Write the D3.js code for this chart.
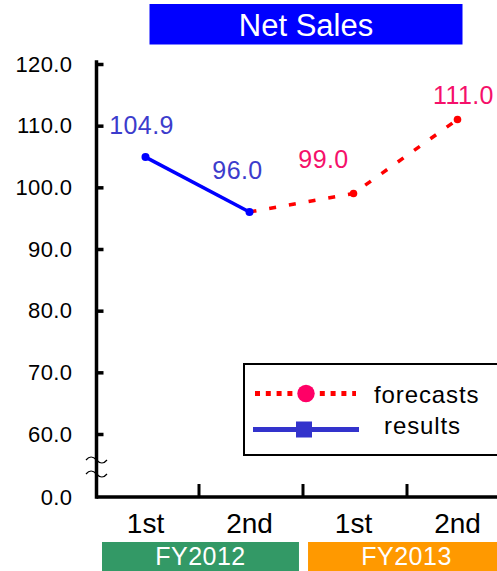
<!DOCTYPE html>
<html><head><meta charset="utf-8">
<script src="https://cdn.jsdelivr.net/npm/d3@7"></script>
<style>
html,body{margin:0;padding:0;background:#fff;}
svg{display:block;font-family:"Liberation Sans",Arial,Helvetica,sans-serif;}
</style></head><body>
<svg id="chart" width="497" height="571"></svg>
<script>
// ---- data ----
const chartTitle = "Net Sales";
const periods = ["1st", "2nd", "1st", "2nd"];
const fiscalYears = ["FY2012", "FY2013"];
const yTickValues = [0, 60, 70, 80, 90, 100, 110, 120];
const resultValues = [104.9, 96.0, null, null];
const forecastValues = [null, 96.0, 99.0, 111.0];
const resultLabels = ["104.9", "96.0", null, null];
const forecastLabels = [null, null, "99.0", "111.0"];
const legendNames = ["forecasts", "results"];

// label nudges relative to each point (layout only)
const resultLabelShift = [[-4, -23], [-12, -33], null, null];
const forecastLabelShift = [null, null, [-30, -26], [6, -16]];

const svg = d3.select("#chart");
const idx = periods.map((d, i) => i);

// broken value axis: 0..60 squeezed into one step, 60..120 linear
const y = d3.scaleLinear().domain([0, 60, 120]).range([497, 434, 64]);
const x = d3.scaleBand().domain(idx).range([93.5, 509.5]).padding(0);
const xc = i => x(i) + x.bandwidth() / 2;
const fy = d3.scaleBand().domain(fiscalYears).range([102, 505]).paddingInner(0.044);

const axisX0 = 96.5;

// title banner
svg.append("rect").attr("x", 149.5).attr("y", 4).attr("width", 313).attr("height", 40.5)
  .attr("fill", "#0000ff");
svg.append("text").attr("x", 306).attr("y", 36).attr("text-anchor", "middle")
  .attr("fill", "#fff").attr("font-size", 31).text(chartTitle);

// y axis
const yAxis = svg.append("g").attr("transform", `translate(${axisX0},0)`)
  .call(d3.axisLeft(y).tickValues(yTickValues).tickSize(-7).tickPadding(24)
    .tickFormat(d3.format(".1f")));
yAxis.select(".domain").attr("stroke", "#000").attr("stroke-width", 3.5)
  .attr("stroke-linecap", "square").attr("d", `M0,${y(0)}V62`);
yAxis.selectAll(".tick line").attr("stroke", "#000").attr("stroke-width", 3.5);
yAxis.selectAll(".tick text").attr("font-size", 22).attr("fill", "#000")
  .attr("letter-spacing", 0.4).attr("font-family", "Liberation Sans, Arial, sans-serif");
yAxis.selectAll(".tick").filter(d => d === 0).select("line").remove();

// axis-break marks
[459, 473].forEach(yy => {
  svg.append("path")
    .attr("d", `M86,${yy + 1}q5,-6 10.5,0t10.5,0`)
    .attr("fill", "none").attr("stroke", "#000").attr("stroke-width", 1.2);
});

// x axis line and separator ticks
svg.append("line").attr("x1", axisX0).attr("x2", 497).attr("y1", 497).attr("y2", 497)
  .attr("stroke", "#000").attr("stroke-width", 3.5);
svg.selectAll(".sep").data(idx.slice(0, -1)).join("line")
  .attr("x1", i => x(i) + x.step() + 1.5).attr("x2", i => x(i) + x.step() + 1.5)
  .attr("y1", 484).attr("y2", 497).attr("stroke", "#000").attr("stroke-width", 3);

const xAxis = svg.append("g").attr("transform", "translate(0,533)")
  .call(d3.axisBottom(x).tickSize(0).tickPadding(0).tickFormat(i => periods[i]));
xAxis.select(".domain").remove();
xAxis.selectAll(".tick text").attr("font-size", 28).attr("fill", "#000").attr("dy", 0)
  .attr("font-family", "Liberation Sans, Arial, sans-serif");

// fiscal year bands
svg.selectAll(".fy").data(fiscalYears).join("rect")
  .attr("x", d => fy(d)).attr("y", 542).attr("width", fy.bandwidth()).attr("height", 30)
  .attr("fill", (d, i) => i === 0 ? "#339966" : "#ff9900");
svg.selectAll(".fyt").data(fiscalYears).join("text")
  .attr("x", d => fy(d) + fy.bandwidth() / 2).attr("y", 565).attr("text-anchor", "middle")
  .attr("fill", "#fff").attr("font-size", 25).attr("letter-spacing", 0.5).text(d => d);

// forecast series
const fPts = idx.filter(i => forecastValues[i] != null);
svg.append("path").datum(fPts)
  .attr("d", d3.line().x(i => xc(i)).y(i => y(forecastValues[i])))
  .attr("fill", "none").attr("stroke", "#ff0000").attr("stroke-width", 3.5)
  .attr("stroke-dasharray", "7,13");
svg.selectAll(".fdot").data(fPts.filter(i => forecastLabels[i])).join("circle")
  .attr("cx", i => xc(i)).attr("cy", i => y(forecastValues[i])).attr("r", 3.8)
  .attr("fill", "#ff0000");

// result series
const rPts = idx.filter(i => resultValues[i] != null);
svg.append("path").datum(rPts)
  .attr("d", d3.line().x(i => xc(i)).y(i => y(resultValues[i])))
  .attr("fill", "none").attr("stroke", "#0000ff").attr("stroke-width", 3.5);
svg.selectAll(".rdot").data(rPts).join("circle")
  .attr("cx", i => xc(i)).attr("cy", i => y(resultValues[i])).attr("r", 4)
  .attr("fill", "#0000ff");

// value labels
svg.selectAll(".rlab").data(rPts.filter(i => resultLabels[i])).join("text")
  .attr("x", i => xc(i) + resultLabelShift[i][0])
  .attr("y", i => y(resultValues[i]) + resultLabelShift[i][1])
  .attr("text-anchor", "middle").attr("font-size", 25).attr("letter-spacing", 0.4)
  .attr("fill", "#3c3ccc").text(i => resultLabels[i]);
svg.selectAll(".flab").data(fPts.filter(i => forecastLabels[i])).join("text")
  .attr("x", i => xc(i) + forecastLabelShift[i][0])
  .attr("y", i => y(forecastValues[i]) + forecastLabelShift[i][1])
  .attr("text-anchor", "middle").attr("font-size", 25).attr("letter-spacing", 0.4)
  .attr("fill", "#f5106a").text(i => forecastLabels[i]);

// legend
const lg = svg.append("g");
lg.append("rect").attr("x", 244).attr("y", 364).attr("width", 270).attr("height", 91)
  .attr("fill", "#fff").attr("stroke", "#000").attr("stroke-width", 2);
lg.append("line").attr("x1", 255).attr("x2", 356).attr("y1", 393.5).attr("y2", 393.5)
  .attr("stroke", "#ff0000").attr("stroke-width", 5).attr("stroke-dasharray", "5,5.8");
lg.append("circle").attr("cx", 306).attr("cy", 393.5).attr("r", 8.7).attr("fill", "#ff0066");
lg.append("line").attr("x1", 253).attr("x2", 359).attr("y1", 429.5).attr("y2", 429.5)
  .attr("stroke", "#3333cc").attr("stroke-width", 5);
lg.append("rect").attr("x", 296).attr("y", 421.5).attr("width", 16).attr("height", 16)
  .attr("fill", "#3333cc");
lg.selectAll(".lt").data(legendNames).join("text")
  .attr("x", (d, i) => i === 0 ? 374 : 384).attr("y", (d, i) => i === 0 ? 403 : 434)
  .attr("font-size", 24).attr("letter-spacing", 0.9).attr("fill", "#000").text(d => d);
</script>
</body></html>
